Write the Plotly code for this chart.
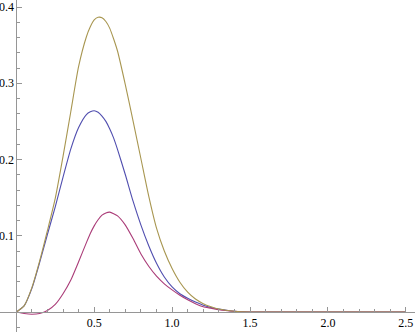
import plotly.graph_objects as go

# values
x = [0, 0.05, 0.1, 0.15, 0.2, 0.25, 0.3, 0.35, 0.4, 0.45, 0.475, 0.5, 0.525,
     0.55, 0.575, 0.6, 0.625, 0.65, 0.7, 0.75, 0.8, 0.85, 0.9, 0.95, 1.0,
     1.05, 1.1, 1.15, 1.2, 1.25, 1.3, 1.4, 1.5, 2.0, 2.5]

blue = [0, 0.008, 0.031, 0.065, 0.102, 0.138, 0.177, 0.214, 0.242, 0.259,
        0.2625, 0.264, 0.262, 0.257, 0.250, 0.240, 0.228, 0.213, 0.180, 0.145,
        0.114, 0.087, 0.064, 0.046, 0.033, 0.024, 0.018, 0.013, 0.009, 0.006,
        0.004, 0.001, 0, 0, 0]

magenta = [0, -0.002, -0.003, -0.002, 0.002, 0.010, 0.024, 0.042, 0.066,
           0.091, 0.103, 0.113, 0.121, 0.127, 0.130, 0.131, 0.129, 0.126,
           0.114, 0.096, 0.076, 0.060, 0.047, 0.037, 0.029, 0.022, 0.016,
           0.011, 0.007, 0.005, 0.003, 0.001, 0, 0, 0]

gold = [0, 0.008, 0.032, 0.067, 0.107, 0.149, 0.204, 0.263, 0.322, 0.361,
        0.374, 0.383, 0.3865, 0.386, 0.381, 0.372, 0.358, 0.342, 0.298, 0.250,
        0.201, 0.152, 0.110, 0.080, 0.057, 0.039, 0.026, 0.017, 0.011, 0.007,
        0.004, 0.001, 0, 0, 0]

x_ticks = [0.5, 1.0, 1.5, 2.0, 2.5]
x_labels = ["0.5", "1.0", "1.5", "2.0", "2.5"]
y_ticks = [0.1, 0.2, 0.3, 0.4]
y_labels = ["0.1", "0.2", "0.3", "0.4"]

x_range = [-0.1046, 2.559]
y_range = [-0.0262, 0.4092]

fig = go.Figure()
for ys, col in [(blue, "rgb(80,78,175)"), (magenta, "rgb(170,60,120)"), (gold, "rgb(168,150,80)")]:
    fig.add_trace(go.Scatter(x=x, y=ys, mode="lines",
                             line=dict(color=col, width=1.1, shape="spline", smoothing=0.6),
                             showlegend=False, hoverinfo="skip"))

axis_font = dict(family="Liberation Serif, serif", size=12, color="black")
fig.update_layout(
    width=415, height=332,
    margin=dict(l=0, r=0, t=0, b=0),
    plot_bgcolor="white", paper_bgcolor="white",
    font=axis_font,
    xaxis=dict(range=x_range, anchor="free",
               position=(0 - y_range[0]) / (y_range[1] - y_range[0]),
               showgrid=False, zeroline=False, showline=True,
               linecolor="rgb(150,150,150)", linewidth=1,
               tickvals=x_ticks, ticktext=x_labels, ticks="inside",
               ticklen=5, tickcolor="rgb(150,150,150)", tickfont=axis_font,
               minor=dict(ticks="inside", dtick=0.1, tick0=0, ticklen=3,
                          tickcolor="rgb(150,150,150)", showgrid=False)),
    yaxis=dict(range=y_range, anchor="free",
               position=(0 - x_range[0]) / (x_range[1] - x_range[0]),
               showgrid=False, zeroline=False, showline=True,
               linecolor="rgb(150,150,150)", linewidth=1,
               tickvals=y_ticks, ticktext=y_labels, ticks="inside",
               ticklen=5, tickcolor="rgb(150,150,150)", tickfont=axis_font,
               minor=dict(ticks="inside", dtick=0.02, tick0=0, ticklen=3,
                          tickcolor="rgb(150,150,150)", showgrid=False)),
)

# the page body has a default 8px margin, drop it so the chart fills the window
fig.write_html("out.html", config={"displayModeBar": False},
               post_script="document.body.style.margin='0';")
